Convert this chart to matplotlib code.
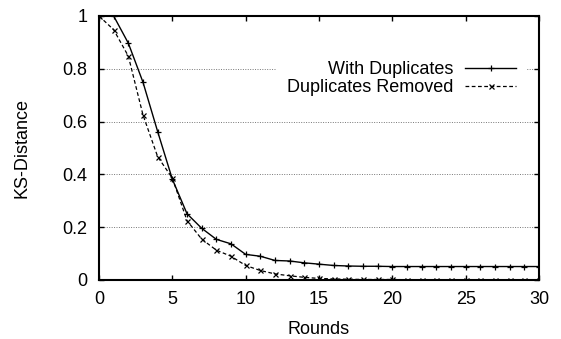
import matplotlib
matplotlib.use("Agg")
import matplotlib.pyplot as plt

plt.rcParams['font.family'] = ['Liberation Sans', 'DejaVu Sans']
plt.rcParams['font.size'] = 13

rounds = list(range(0, 31))
with_dups = [1.0, 1.0, 0.897, 0.749, 0.562, 0.382, 0.251, 0.196, 0.154, 0.137, 0.097,
             0.090, 0.074, 0.072, 0.065, 0.060, 0.055, 0.053, 0.052, 0.052, 0.051,
             0.051, 0.051, 0.051, 0.051, 0.051, 0.051, 0.051, 0.051, 0.051, 0.051]
dups_removed = [1.0, 0.948, 0.848, 0.625, 0.467, 0.386, 0.225, 0.155, 0.113, 0.090, 0.055,
                0.036, 0.023, 0.016, 0.010, 0.006, 0.004, 0.003, 0.002, 0.002, 0.002,
                0.001, 0.001, 0.001, 0.001, 0.001, 0.001, 0.001, 0.001, 0.001, 0.001]
xticks = [0, 5, 10, 15, 20, 25, 30]
yticks = [0, 0.2, 0.4, 0.6, 0.8, 1.0]
ytick_labels = ["0", "0.2", "0.4", "0.6", "0.8", "1"]

fig = plt.figure(figsize=(5.61, 3.39), dpi=100)
ax = fig.add_axes([99/561, 1 - 280/339, 440/561, 264/339])

ax.plot(rounds, with_dups, color='black', linestyle='-', linewidth=1.0,
        marker='+', markersize=5, markeredgewidth=0.9, label='With Duplicates')
ax.plot(rounds, dups_removed, color='black', linestyle=(0, (3, 2)), linewidth=0.9,
        marker='x', markersize=3.6, markeredgewidth=0.9, label='Duplicates Removed')

ax.set_xlim(0, 30)
ax.set_ylim(0, 1)
ax.set_xticks(xticks)
ax.set_yticks(yticks)
ax.set_yticklabels(ytick_labels)
ax.tick_params(direction='in', length=3.6, width=1, top=True, right=True, labelsize=13)
ax.tick_params(axis='y', pad=8.5)
ax.tick_params(axis='x', pad=8)
for s in ax.spines.values():
    s.set_linewidth(1.5)

for y in [0.2, 0.4, 0.6, 0.8]:
    ax.axhline(y, color='#777777', linestyle=(0, (1, 1.5)), linewidth=0.7, zorder=0.5)

ax.set_xlabel('Rounds', labelpad=9)
ax.set_ylabel('KS-Distance', labelpad=23)

leg = ax.legend(loc='center right', bbox_to_anchor=(0.973, 0.763), markerfirst=False,
                frameon=True, fancybox=False, handlelength=2.83, handletextpad=0.67,
                labelspacing=0.05, borderpad=0.6, borderaxespad=0, fontsize=13)
leg.get_frame().set_edgecolor('none')
leg.get_frame().set_facecolor('white')
leg.get_frame().set_alpha(1.0)
for t in leg.get_texts():
    t.set_ha('right')
leg._legend_box.align = 'right'

fig.savefig('out.png', dpi=100)
